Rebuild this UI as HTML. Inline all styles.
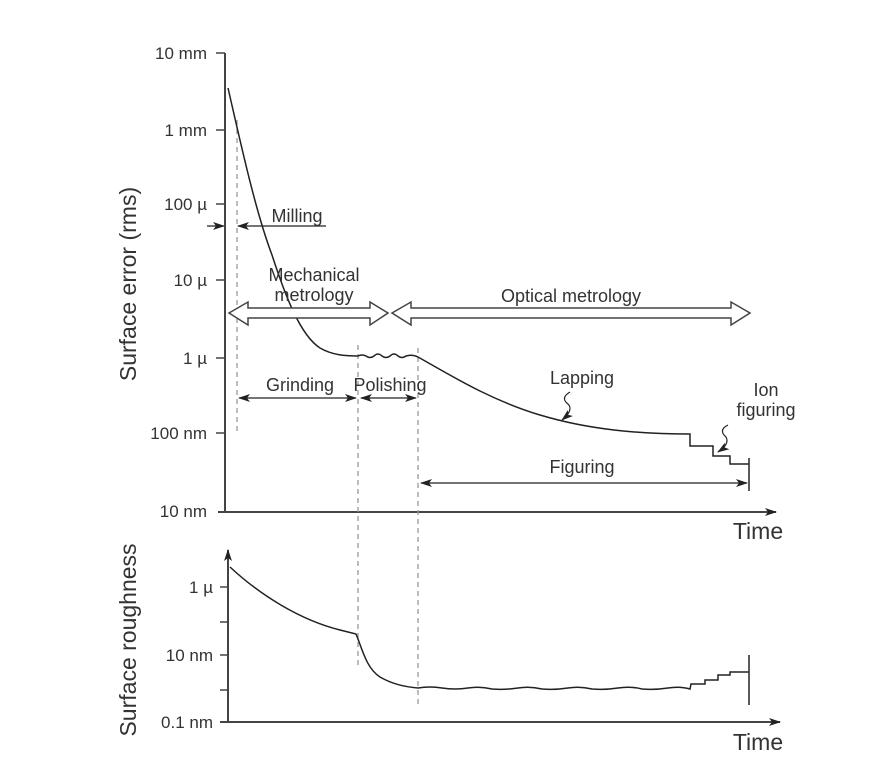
<!DOCTYPE html>
<html><head><meta charset="utf-8"><style>
html,body{margin:0;padding:0;background:#fff;}
svg{display:block;}
text{font-family:"Liberation Sans",sans-serif;fill:#333;}
</style></head><body>
<svg width="891" height="777" viewBox="0 0 891 777" xmlns="http://www.w3.org/2000/svg">
<defs>
<marker id="ah" markerWidth="12" markerHeight="8" refX="11" refY="4" orient="auto" markerUnits="userSpaceOnUse">
<path d="M0,0 L12,4 L0,8 L3,4 Z" fill="#222"/></marker>
</defs>
<g stroke="#444" fill="none">
<line x1="225" y1="53" x2="225" y2="513" stroke-width="2"/>
<line x1="218" y1="512" x2="776" y2="512" stroke-width="2" marker-end="url(#ah)"/>
<g stroke-width="1.5">
<line x1="216" y1="53" x2="225" y2="53"/>
<line x1="216" y1="130" x2="225" y2="130"/>
<line x1="216" y1="204" x2="225" y2="204"/>
<line x1="216" y1="280" x2="225" y2="280"/>
<line x1="216" y1="358" x2="225" y2="358"/>
<line x1="216" y1="433" x2="225" y2="433"/>
</g>
<g stroke="#999" stroke-width="1.3" stroke-dasharray="5,4">
<line x1="237" y1="120" x2="237" y2="435"/>
<line x1="358" y1="345" x2="358" y2="665"/>
<line x1="418" y1="348" x2="418" y2="708"/>
</g>
<path d="M228,88 C240,140 255,210 272,255 C285,295 300,335 320,348 C332,355 345,356 358,356 Q362,354 366,356 Q370,359 374,356 Q378,352 382,356 Q386,359 390,356 Q394,352 398,356 Q402,359 406,356 Q412,354 418,357 C450,375 490,400 540,415 C590,430 640,434 690,434 L690,446 L713,446 L713,456 L730,456 L730,464 L749,464" stroke="#222" stroke-width="1.5"/>
<line x1="749" y1="458" x2="749" y2="491" stroke="#222" stroke-width="1.5"/>
<path d="M570,392 Q560,398 568,404 Q574,410 562,420" stroke="#222" stroke-width="1.2" marker-end="url(#ah)"/>
<path d="M728,425 Q718,430 726,437 Q730,444 718,452" stroke="#222" stroke-width="1.2" marker-end="url(#ah)"/>
<line x1="207" y1="226" x2="224" y2="226" stroke="#222" stroke-width="1.3" marker-end="url(#ah)"/>
<line x1="326" y1="226" x2="238" y2="226" stroke="#222" stroke-width="1.3" marker-end="url(#ah)"/>
<g stroke="#222" stroke-width="1.3">
<line x1="298" y1="398" x2="239" y2="398" marker-end="url(#ah)"/>
<line x1="298" y1="398" x2="356" y2="398" marker-end="url(#ah)"/>
<line x1="388" y1="398" x2="361" y2="398" marker-end="url(#ah)"/>
<line x1="388" y1="398" x2="416" y2="398" marker-end="url(#ah)"/>
<line x1="580" y1="483" x2="421" y2="483" marker-end="url(#ah)"/>
<line x1="580" y1="483" x2="747" y2="483" marker-end="url(#ah)"/>
</g>
<path d="M229,313 L248,302 L248,308 L370,308 L370,302 L388,313 L370,325 L370,318 L248,318 L248,325 Z" stroke="#444" stroke-width="1.5" fill="#fff"/>
<path d="M392,313 L411,302 L411,308 L731,308 L731,302 L750,313 L731,325 L731,318 L411,318 L411,325 Z" stroke="#444" stroke-width="1.5" fill="#fff"/>
<line x1="228" y1="723" x2="228" y2="550" stroke-width="2" marker-end="url(#ah)"/>
<line x1="220" y1="722" x2="780" y2="722" stroke-width="2" marker-end="url(#ah)"/>
<g stroke-width="1.5">
<line x1="220" y1="587" x2="228" y2="587"/>
<line x1="220" y1="622" x2="228" y2="622"/>
<line x1="220" y1="655" x2="228" y2="655"/>
<line x1="220" y1="690" x2="228" y2="690"/>
</g>
<path d="M230,567 C260,595 300,620 340,630 L356,634 C362,648 366,668 380,677 C392,684 405,687 418,688 Q430,686 442,688 Q455,690 468,688 Q480,686 492,689 Q505,690 518,688 Q530,686 542,689 Q555,690 568,688 Q580,686 592,689 Q605,690 618,688 Q630,686 642,689 Q655,690 668,688 Q680,686 690,689 L691,684 L705,684 L705,680 L718,680 L718,675 L730,675 L730,672 L749,672" stroke="#222" stroke-width="1.5"/>
<line x1="749" y1="655" x2="749" y2="705" stroke="#222" stroke-width="1.5"/>
</g>
<g font-size="17" text-anchor="end">
<text x="207" y="59">10 mm</text>
<text x="207" y="136">1 mm</text>
<text x="207" y="210">100 µ</text>
<text x="207" y="286">10 µ</text>
<text x="207" y="364">1 µ</text>
<text x="207" y="439">100 nm</text>
<text x="207" y="517">10 nm</text>
<text x="213" y="593">1 µ</text>
<text x="213" y="661">10 nm</text>
<text x="213" y="728">0.1 nm</text>
</g>
<g font-size="18" text-anchor="middle">
<text x="297" y="222">Milling</text>
<text x="314" y="281">Mechanical</text>
<text x="314" y="301">metrology</text>
<text x="571" y="302">Optical metrology</text>
<text x="300" y="391">Grinding</text>
<text x="390" y="391">Polishing</text>
<text x="582" y="384">Lapping</text>
<text x="766" y="396">Ion</text>
<text x="766" y="416">figuring</text>
<text x="582" y="473">Figuring</text>
</g>
<text x="758" y="539" font-size="23" text-anchor="middle">Time</text>
<text x="758" y="750" font-size="23" text-anchor="middle">Time</text>
<text transform="translate(136,284) rotate(-90)" font-size="23" text-anchor="middle">Surface error (rms)</text>
<text transform="translate(136,640) rotate(-90)" font-size="23" text-anchor="middle">Surface roughness</text>
</svg>
</body></html>
